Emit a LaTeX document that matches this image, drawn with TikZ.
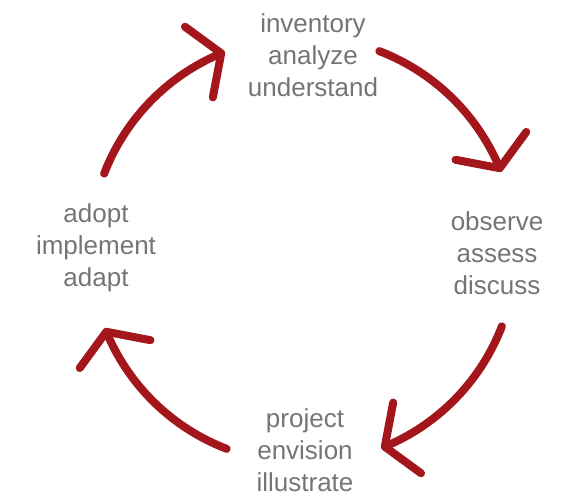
\documentclass[tikz,border=0pt]{standalone}
\usepackage{fontspec}
\setmainfont{Liberation Sans}
\usepackage{tikz}
\usepackage{xcolor}
\definecolor{cycle_red}{HTML}{A3161C}
\definecolor{cycle_gray}{HTML}{757575}
\usetikzlibrary{arrows.meta,bending,calc}
\tikzset{STAGE/.style={align=center,text=cycle_gray,inner sep=0pt,font=\fontsize{26}{32}\selectfont}}
\tikzset{ARROW/.style={draw=cycle_red,line width=8pt,line cap=round,-{Straight Barb[length=24pt,width=76pt,round]}}}

\begin{document}
\begin{tikzpicture}[x=1pt,y=1pt]

\useasboundingbox (0,0) rectangle (562,497);

\coordinate (c_center) at (303,247);

\node[STAGE] (n_understand) at (313,441.5) {inventory\\analyze\\understand};
\node[STAGE] (n_discuss) at (497,244) {observe\\assess\\discuss};
\node[STAGE] (n_illustrate) at (305,47) {project\\envision\\illustrate};
\node[STAGE] (n_adapt) at (96,249) {adopt\\implement\\adapt};

% one arc per quarter, clockwise
\foreach \a in {135,45,-45,-135}{
    \coordinate (c_start) at ($(c_center)+(\a+24:213)$);
    \draw[ARROW] (c_start) arc[start angle=\a+24, end angle=\a-23.5, radius=213];
}

\end{tikzpicture}
\end{document}
